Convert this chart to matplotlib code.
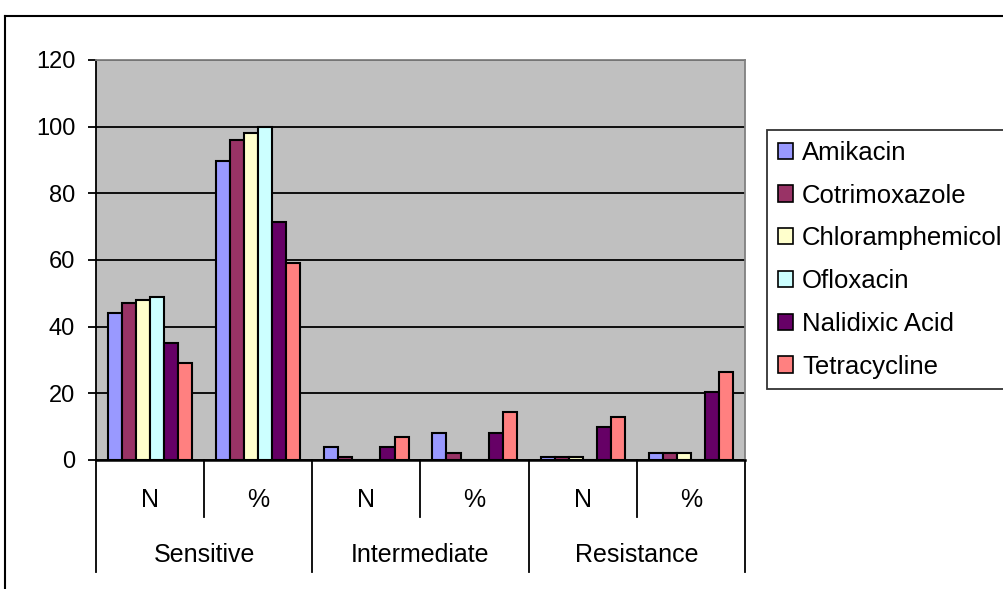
import numpy as np
import matplotlib.pyplot as plt
from matplotlib.patches import Patch

plt.rcParams['font.family'] = ['Liberation Sans', 'DejaVu Sans']

# sub categories (N and % for each group)
sub_labels = ['N', '%', 'N', '%', 'N', '%']
groups = ['Sensitive', 'Intermediate', 'Resistance']

drugs = ['Amikacin', 'Cotrimoxazole', 'Chloramphemicol', 'Ofloxacin',
         'Nalidixic Acid', 'Tetracycline']
amikacin = [44, 89.8, 4, 8.2, 1, 2.0]
cotrimoxazole = [47, 95.9, 1, 2.0, 1, 2.0]
chloramphemicol = [48, 98.0, 0, 0, 1, 2.0]
ofloxacin = [49, 100, 0, 0, 0, 0]
nalidixic = [35, 71.4, 4, 8.2, 10, 20.4]
tetracycline = [29, 59.2, 7, 14.3, 13, 26.5]
series = [amikacin, cotrimoxazole, chloramphemicol, ofloxacin, nalidixic, tetracycline]
colors = ['#9999FF', '#993366', '#FFFFCC', '#CCFFFF', '#660066', '#FF8080']

W, H = 1004, 589
fig = plt.figure(figsize=(W / 100, H / 100), dpi=100)
ax = fig.add_axes([96 / W, 1 - 460 / H, (745 - 96) / W, (460 - 60) / H])
ax.set_facecolor('#C0C0C0')

x = np.arange(len(sub_labels))
bw = 0.13
for i, (vals, c) in enumerate(zip(series, colors)):
    ax.bar(x + (i - 2.5) * bw, vals, bw, color=c, edgecolor='black', linewidth=1.5, zorder=3)

ax.set_xlim(-0.5, 5.5)
ax.set_ylim(0, 120)
ax.set_yticks(range(0, 121, 20))
ax.yaxis.grid(True, color='black', linewidth=1.3, zorder=1)
ax.tick_params(axis='y', labelsize=17, length=6, width=1.3, pad=9)
ax.set_xticks([])
for s in ['top', 'right']:
    ax.spines[s].set_color('#808080')
    ax.spines[s].set_linewidth(1.3)
ax.spines['left'].set_linewidth(1.3)
ax.spines['bottom'].set_linewidth(1.8)

# two-level category axis
tr = ax.get_xaxis_transform()
for k in range(len(sub_labels)):
    ax.text(k, -0.10, sub_labels[k], transform=tr, ha='center', va='center', fontsize=18)
for k in range(len(sub_labels) + 1):
    pos = k - 0.5
    low = -0.28 if k % 2 == 0 else -0.1425
    ax.plot([pos, pos], [0, low], transform=tr, color='black', lw=1.3, clip_on=False)
for g, name in enumerate(groups):
    ax.text(2 * g + 0.5, -0.2375, name, transform=tr, ha='center', va='center', fontsize=18)

# outer chart border (cut at right and bottom)
fig.add_artist(plt.Line2D([5 / W, 5 / W], [0, 1 - 16 / H], color='black', lw=1.5))
fig.add_artist(plt.Line2D([5 / W, 1], [1 - 16 / H, 1 - 16 / H], color='black', lw=1.5))

handles = [Patch(facecolor=c, edgecolor='black', linewidth=1.2) for c in colors]
leg = fig.legend(handles, drugs, loc='upper left', bbox_to_anchor=(767 / W, 1 - 130 / H),
                 fontsize=18.5, frameon=True, fancybox=False, borderaxespad=0,
                 handlelength=0.6, handleheight=0.6, handletextpad=0.35,
                 labelspacing=0.73, borderpad=0.42)
leg.get_frame().set_edgecolor('black')
leg.get_frame().set_linewidth(1.3)

fig.savefig('out.png', dpi=100)
